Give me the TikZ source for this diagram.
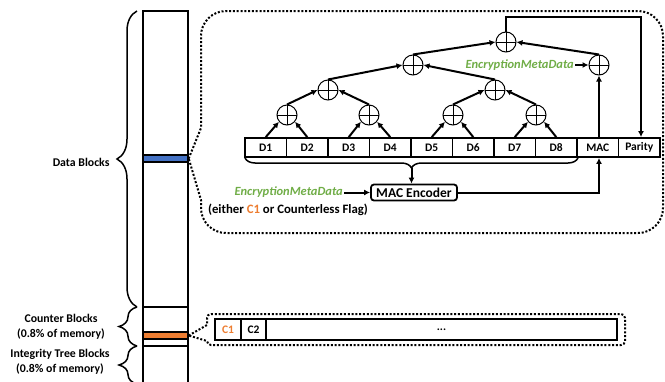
\documentclass[tikz,border=0pt]{standalone}
\usepackage{fontspec}
\setmainfont{Carlito}
\usetikzlibrary{decorations.pathreplacing,arrows.meta,calc}
\definecolor{mygreen}{HTML}{70AD47}
\definecolor{myorange}{HTML}{ED7D31}
\definecolor{myblue}{HTML}{4472C4}
\begin{document}
\begin{tikzpicture}[x=1pt,y=1pt,
  lbl/.style={font=\bfseries\fontsize{11.8}{14.5}\selectfont, align=center},
  cell/.style={draw, line width=1.8pt, minimum width=41.5pt, minimum height=19pt, inner sep=0pt, font=\bfseries\fontsize{11.5}{12}\selectfont},
  ccell/.style={draw, line width=1.8pt, minimum height=21pt, inner sep=0pt, font=\bfseries\fontsize{11.5}{12}\selectfont},
  arr/.style={line width=2pt, -{Latex[length=6pt,width=6pt]}},
  dots/.style={line width=2pt, dash pattern=on 2pt off 1.8pt},
  brc/.style={decorate, line width=1.5pt},
  band/.style={draw, line width=1.4pt, minimum width=45pt, minimum height=7pt, inner sep=0pt},
  xorn/.style={circle, draw, line width=1pt, minimum size=20pt, inner sep=0pt,
    path picture={\draw[line width=0.8pt] (path picture bounding box.north) -- (path picture bounding box.south)
      (path picture bounding box.west) -- (path picture bounding box.east);}},
  gtext/.style={text=mygreen, font=\bfseries\itshape\fontsize{12.5}{13}\selectfont}
]
\useasboundingbox (0,0) rectangle (665,-381);

% memory column
\draw[line width=1.5pt] (143,-385) -- (143,-11) -- (188,-11) -- (188,-385);
\draw[line width=1.5pt] (143,-307) -- (188,-307);
\draw[line width=1.5pt] (143,-346) -- (188,-346);
\node[band, fill=myblue] (blue) at (165.5,-158.5) {};
\node[band, fill=myorange] (orange) at (165.5,-335.5) {};

% braces and labels
\draw[brc, decoration={brace, amplitude=20pt}] (137,-307) -- (137,-11);
\node[lbl, anchor=east] (ldata) at (113,-162) {Data Blocks};
\draw[brc, decoration={brace, amplitude=18pt}] (137,-346) -- (137,-307);
\node[lbl] (lcnt) at (61,-327) {Counter Blocks\\(0.8\% of memory)};
\draw[brc, decoration={brace, amplitude=18pt}] (137,-384) -- (137,-346);
\node[lbl] (lint) at (60,-362) {Integrity Tree Blocks\\(0.8\% of memory)};

% big callout
\draw[dots] (blue.east) -- (201,-128) -- (201,-36) arc (180:90:25) -- (638,-11) arc (90:0:25)
  -- (663,-208) arc (0:-90:25) -- (226,-233) arc (270:180:25) -- (201,-200) -- (blue.east);

% data row
\node[cell] (d1) at (265.75,-147.5) {D1};
\node[cell] (d2) at (307.25,-147.5) {D2};
\node[cell] (d3) at (348.75,-147.5) {D3};
\node[cell] (d4) at (390.25,-147.5) {D4};
\node[cell] (d5) at (431.75,-147.5) {D5};
\node[cell] (d6) at (473.25,-147.5) {D6};
\node[cell] (d7) at (514.75,-147.5) {D7};
\node[cell] (d8) at (556.25,-147.5) {D8};
\node[cell] (mac) at (597.75,-147.5) {MAC};
\node[cell] (par) at (639.25,-147.5) {Parity};

% xor tree
\node[xorn] (x11) at (287,-115) {};
\node[xorn] (x12) at (369,-115) {};
\node[xorn] (x13) at (453,-115) {};
\node[xorn] (x14) at (536,-115) {};
\node[xorn] (x21) at (328,-90) {};
\node[xorn] (x22) at (495,-90) {};
\node[xorn] (x3) at (413,-65) {};
\node[xorn] (root) at (506,-42) {};
\node[xorn] (xr) at (599,-65) {};

\draw[arr] (d1.north) -- (x11.-140);
\draw[arr] (d2.north) -- (x11.-40);
\draw[arr] (d3.north) -- (x12.-140);
\draw[arr] (d4.north) -- (x12.-40);
\draw[arr] (d5.north) -- (x13.-140);
\draw[arr] (d6.north) -- (x13.-40);
\draw[arr] (d7.north) -- (x14.-140);
\draw[arr] (d8.north) -- (x14.-40);
\draw[arr] (x11.north) -- (x21.west);
\draw[arr] (x12.north) -- (x21.east);
\draw[arr] (x13.north) -- (x22.west);
\draw[arr] (x14.north) -- (x22.east);
\draw[arr] (x21.north) -- (x3.west);
\draw[arr] (x22.north) -- (x3.east);
\draw[arr] (x3.north) -- (root.west);
\draw[arr] (xr.north) -- (root.east);
\draw[arr] (mac.north -| xr) -- (xr.south);
\node[gtext, anchor=east, inner sep=1pt] (em1) at (575,-65) {EncryptionMetaData};
\draw[arr] (em1.east) -- (xr.west);
\coordinate (tp) at (641,-17);
\draw[arr] (root.north) -- (root.north |- tp) -- (tp) -- (tp |- par.north);

% MAC encoder
\draw[brc, decoration={brace, amplitude=10pt}] (578,-158) -- (245,-158);
\coordinate (bt) at (411.5,-168);
\node[draw, rounded corners=3pt, line width=1.8pt, font=\bfseries\fontsize{13.5}{14}\selectfont,
  minimum width=86pt, minimum height=16pt, inner sep=1pt] (enc) at (414,-192.5) {MAC Encoder};
\draw[arr] (bt) -- (bt |- enc.north);
\draw[arr] (enc.east) -| (mac.south -| xr);
\node[gtext, anchor=east, inner sep=1pt] (em2) at (344,-192.5) {EncryptionMetaData};
\draw[arr] (em2.east) -- (enc.west);
\node[lbl, font=\bfseries\fontsize{12.8}{14}\selectfont] (either) at (288,-210) {(either \textcolor{myorange}{C1} or Counterless Flag)};

% counter callout
\draw[dots] (orange.east) -- (207,-325) -- (207,-318) arc (180:90:4) -- (621,-314) arc (90:0:4)
  -- (625,-341) arc (0:-90:4) -- (211,-345) arc (270:180:4) -- (orange.east);
\node[ccell, minimum width=26pt, text=myorange] (c1) at (228,-329.5) {C1};
\node[ccell, minimum width=25pt] (c2) at (253.5,-329.5) {C2};
\node[ccell, minimum width=351pt] (crest) at (441.5,-329.5) {...};
\end{tikzpicture}
\end{document}
